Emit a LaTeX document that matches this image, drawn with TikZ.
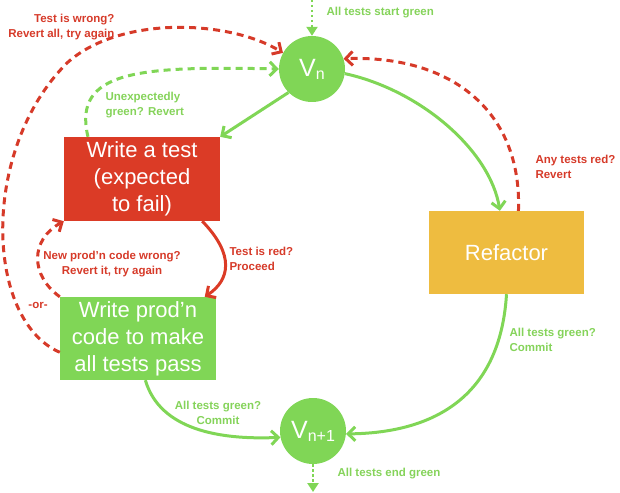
\documentclass[tikz,border=0pt]{standalone}
\usepackage{fontspec}
\setmainfont{Liberation Sans}
\usetikzlibrary{arrows.meta}

\definecolor{tddred}{HTML}{DB3B26}
\definecolor{tddgreen}{HTML}{80D656}
\definecolor{tddyellow}{HTML}{EEBC40}
\definecolor{notered}{HTML}{D63A29}
\definecolor{notegreen}{HTML}{85D35A}

\begin{document}
\begin{tikzpicture}[x=1pt,y=-1pt,
  stepbox/.style={minimum width=156pt,minimum height=84pt,inner sep=0pt,
    align=center,text=white,font=\fontsize{22}{27}\selectfont},
  vnode/.style={circle,fill=tddgreen,minimum size=66pt,inner sep=0pt,text=white},
  note/.style={font=\bfseries\fontsize{11.5}{15}\selectfont},
  flow/.style={line width=3pt,-{Straight Barb[length=7pt,width=14pt]}},
  back/.style={flow,dash pattern=on 7pt off 5pt},
  entry/.style={line width=2.5pt,dash pattern=on 2.5pt off 2.5pt,
    -{Triangle[length=9pt,width=11pt]},tddgreen}]
  \useasboundingbox (0,0) rectangle (620,492);

  % states
  \node[vnode] (vn) at (312,69)
    {\fontsize{25}{25}\selectfont V\raisebox{-3pt}{\fontsize{16}{16}\selectfont n}};
  \node[vnode] (vnext) at (313,431)
    {\fontsize{25}{25}\selectfont V\raisebox{-3pt}{\fontsize{16}{16}\selectfont n+1}};

  % steps
  \node[stepbox,fill=tddred] (test) at (142,179) {Write a test\\(expected\\to fail)};
  \node[stepbox,fill=tddgreen,minimum height=83pt] (prod) at (138,338.5)
    {Write prod'n\\code to make\\all tests pass};
  \node[stepbox,fill=tddyellow,minimum width=155pt,minimum height=83pt] (refac)
    at (506.5,252.5) {Refactor};

  % in and out
  \coordinate (start) at (312,0);
  \coordinate (finish) at (313,492);
  \draw[entry] (start) -- (vn.north);
  \draw[entry] (vnext.south) -- (finish);
  \node[note,text=notegreen,anchor=west] at (323,13) {All tests start green};
  \node[note,text=notegreen,anchor=west] at (334,474) {All tests end green};

  % forward
  \draw[flow,tddgreen] (vn.225) -- (test.north east);
  \draw[flow,tddred] (test.-35) .. controls (235,255) and (230,280) .. (prod.32);
  \draw[flow,tddgreen] (prod.-80) .. controls (160,430) and (220,440) .. (vnext.191);
  \draw[flow,tddgreen] (vn.-8) .. controls (420,90) and (490,150) .. (refac.99);
  \draw[flow,tddgreen] (refac.south) .. controls (500,400) and (430,433) .. (vnext.-5);

  % reverts
  \draw[back,tddgreen] (test.142) .. controls (72,70) and (140,66) .. (vn.west);
  \draw[back,notered] (prod.north west) .. controls (30,275) and (30,240) .. (test.south west);
  \draw[back,notered] (prod.190) .. controls (-15,320) and (-20,150) .. (67,63)
    .. controls (120,15) and (230,20) .. (vn.151);
  \draw[back,notered] (refac.74) .. controls (522,110) and (450,55) .. (vn.18);

  % notes
  \node[note,text=notered,align=right,anchor=east] at (118,27)
    {Test is wrong?\\Revert all, try again};
  \node[note,text=notegreen,align=left,anchor=west] at (102,105)
    {Unexpectedly\\green? Revert};
  \node[note,text=notered,align=left,anchor=west] at (226,259)
    {Test is red?\\Proceed};
  \node[note,text=notered,align=center] at (112,264)
    {New prod'n code wrong?\\Revert it, try again};
  \node[note,text=notered] at (38,305) {-or-};
  \node[note,text=notered,align=left,anchor=west] at (532,167)
    {Any tests red?\\Revert};
  \node[note,text=notegreen,align=center] at (218,413)
    {All tests green?\\Commit};
  \node[note,text=notegreen,align=left,anchor=west] at (506,340)
    {All tests green?\\Commit};
\end{tikzpicture}
\end{document}
